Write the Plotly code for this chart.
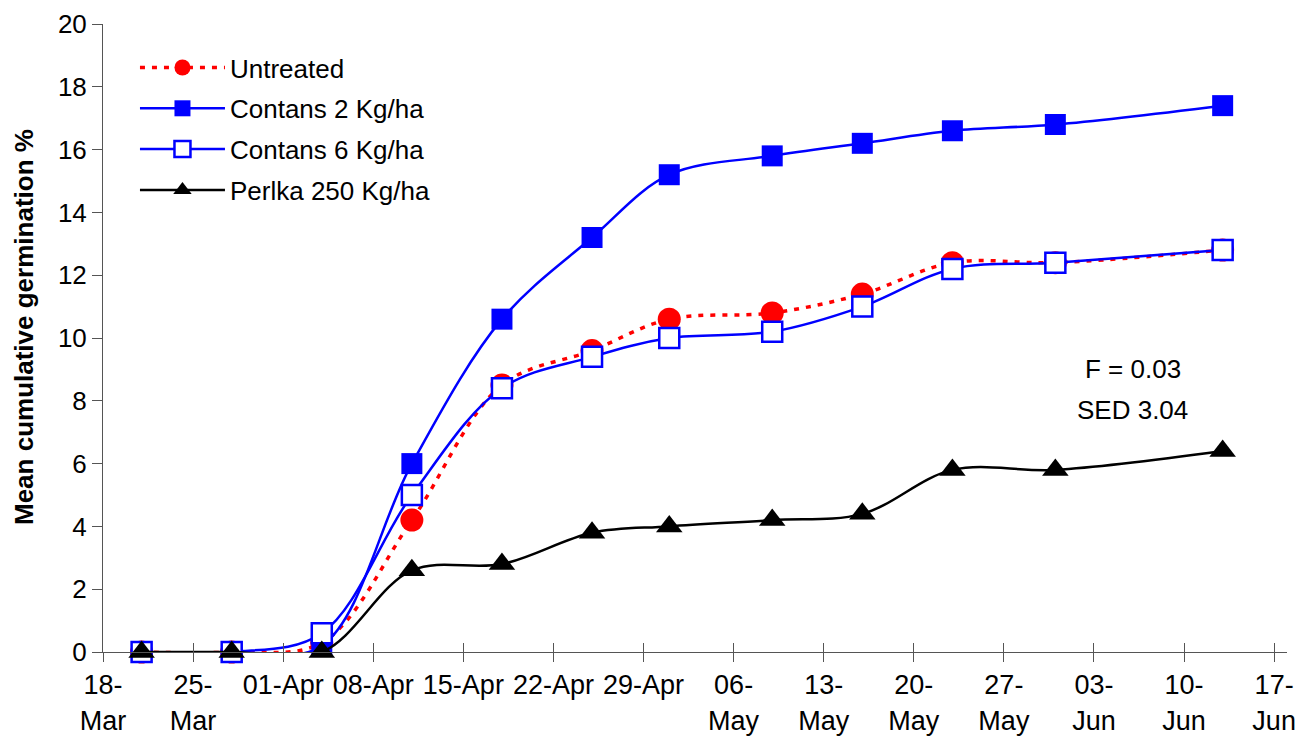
import plotly.graph_objects as go

dates = ["2003-03-21", "2003-03-28", "2003-04-04", "2003-04-11", "2003-04-18", "2003-04-25",
         "2003-05-01", "2003-05-09", "2003-05-16", "2003-05-23", "2003-05-31", "2003-06-13"]
untreated = [0, 0, 0.3, 4.2, 8.5, 9.6, 10.6, 10.8, 11.4, 12.4, 12.4, 12.8]
contans2 = [0, 0, 0.2, 6.0, 10.6, 13.2, 15.2, 15.8, 16.2, 16.6, 16.8, 17.4]
contans6 = [0, 0, 0.6, 5.0, 8.4, 9.4, 10.0, 10.2, 11.0, 12.2, 12.4, 12.8]
perlka = [0, 0, 0, 2.6, 2.8, 3.8, 4.0, 4.2, 4.4, 5.8, 5.8, 6.4]

tick_vals = ["2003-03-18", "2003-03-25", "2003-04-01", "2003-04-08", "2003-04-15", "2003-04-22",
             "2003-04-29", "2003-05-06", "2003-05-13", "2003-05-20", "2003-05-27", "2003-06-03",
             "2003-06-10", "2003-06-17"]
tick_text = ["18-<br>Mar", "25-<br>Mar", "01-Apr", "08-Apr", "15-Apr", "22-Apr", "29-Apr",
             "06-<br>May", "13-<br>May", "20-<br>May", "27-<br>May", "03-<br>Jun", "10-<br>Jun",
             "17-<br>Jun"]
x_range = ["2003-03-18", "2003-06-18"]

FONT = "Liberation Sans, Arial, sans-serif"
AX = "#555555"
W, H = 1299, 738
ML, MR, MT, MB = 103, 12, 24, 86

fig = go.Figure()
fig.add_trace(go.Scatter(
    x=dates, y=untreated, name="Untreated", mode="lines+markers", legendgroup="a",
    line=dict(color="#FF0000", width=3.5, dash="5px,7px", shape="spline"),
    marker=dict(symbol="circle", size=23, color="#FF0000"), cliponaxis=False))
fig.add_trace(go.Scatter(
    x=dates, y=contans2, name="Contans 2 Kg/ha", mode="lines+markers", legendgroup="b",
    line=dict(color="#0000FF", width=2.5, shape="spline"),
    marker=dict(symbol="square", size=21, color="#0000FF"), cliponaxis=False))
fig.add_trace(go.Scatter(
    x=dates, y=contans6, name="Contans 6 Kg/ha", mode="lines+markers", legendgroup="c",
    line=dict(color="#0000FF", width=2.5, shape="spline"),
    marker=dict(symbol="square", size=20, color="white", line=dict(color="#0000FF", width=2.5)),
    cliponaxis=False))
fig.add_trace(go.Scatter(
    x=dates, y=perlka, name="Perlka 250 Kg/ha", mode="lines+markers", legendgroup="d",
    line=dict(color="black", width=2.5, shape="spline"),
    marker=dict(symbol="triangle-up", size=23, color="black"), cliponaxis=False))
# invisible trace to activate the overlay axis used for inward tick halves
fig.add_trace(go.Scatter(x=dates, y=perlka, xaxis="x2", mode="markers",
                         marker=dict(opacity=0), showlegend=False, hoverinfo="skip"))

fig.update_layout(
    width=W, height=H,
    margin=dict(l=ML, r=MR, t=MT, b=MB),
    paper_bgcolor="white", plot_bgcolor="white",
    font=dict(family=FONT, size=26, color="black"),
    showlegend=True,
    legend=dict(x=0.027, y=0.968, xanchor="left", yanchor="top",
                font=dict(size=26), itemwidth=85, bgcolor="rgba(0,0,0,0)",
                tracegroupgap=4, itemsizing="trace"),
    xaxis=dict(type="date", range=x_range, tickmode="array", tickvals=tick_vals,
               ticktext=tick_text, ticks="outside", ticklen=9, tickcolor=AX,
               showline=True, linecolor=AX, linewidth=1, showgrid=False, zeroline=False,
               tickfont=dict(size=27), tickangle=0, automargin=False),
    xaxis2=dict(type="date", range=x_range, overlaying="x", anchor="y", side="bottom",
                tickmode="array", tickvals=tick_vals, ticks="inside", ticklen=9,
                tickcolor=AX, showticklabels=False, showline=False, showgrid=False,
                zeroline=False, automargin=False),
    yaxis=dict(range=[0, 20], dtick=2, tick0=0, ticks="outside", ticklen=10, tickcolor=AX,
               showline=True, linecolor=AX, linewidth=1, showgrid=False, zeroline=False,
               tickfont=dict(size=26), automargin=False),
)

fig.add_annotation(xref="paper", yref="paper",
                   x=(24 - ML) / (W - ML - MR), y=(H - MB - 327) / (H - MT - MB),
                   xanchor="center", yanchor="middle",
                   text="<b>Mean cumulative germination %</b>",
                   textangle=-90, showarrow=False, font=dict(size=26))
fig.add_annotation(x="2003-06-06", y=9.0, xref="x", yref="y", text="F = 0.03",
                   showarrow=False, font=dict(size=26), xanchor="center")
fig.add_annotation(x="2003-06-06", y=7.7, xref="x", yref="y", text="SED 3.04",
                   showarrow=False, font=dict(size=26), xanchor="center")

fig.write_html("out.html", config={"displayModeBar": False},
               post_script="document.body.style.margin='0px';document.body.style.overflow='hidden';")
